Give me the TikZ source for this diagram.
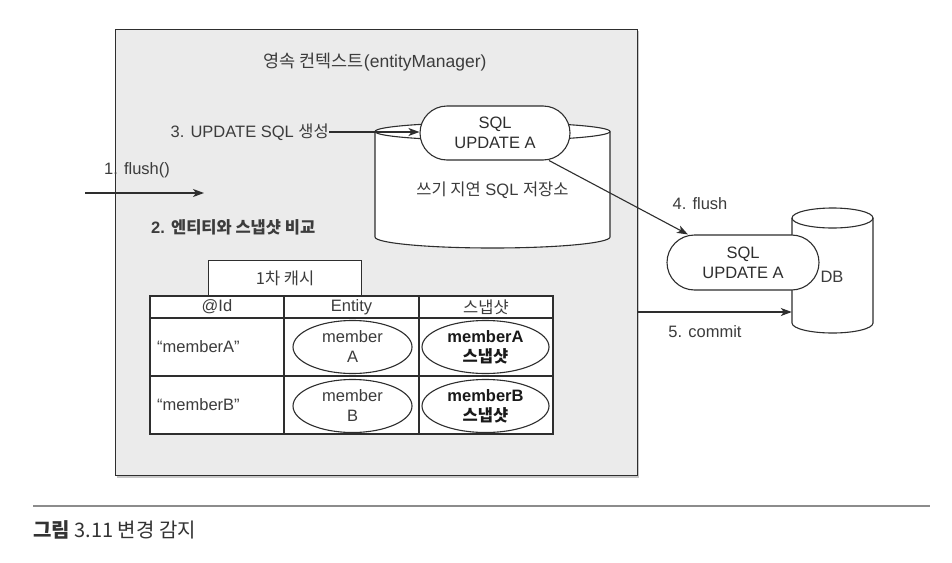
\documentclass[tikz,border=0pt]{standalone}
\usepackage{fontspec}
\setmainfont{Liberation Sans}
\newfontfamily\kr[Scale=1.0]{Noto Sans CJK KR}
\newfontfamily\krcap{Noto Sans CJK KR}
\usetikzlibrary{arrows.meta,shapes.geometric,calc}
\pgfdeclarelayer{back}
\pgfsetlayers{back,main}
\definecolor{txt}{HTML}{3C3C3C}
\definecolor{ln}{HTML}{2E2E2E}
\definecolor{boxfill}{HTML}{EBEBEB}
\begin{document}
\begin{tikzpicture}[x=1pt,y=-1pt,
  every node/.style={font=\fontsize{16.5}{20}\selectfont, text=txt, inner sep=0pt},
  line/.style={draw=ln, line width=1.1pt},
  arr/.style={line, -{Stealth[length=11pt,width=8pt,inset=3pt]}},
  pill/.style={draw=ln, line width=1.1pt, fill=white, rounded corners=27pt, minimum width=150pt, minimum height=54pt, align=center, text=ln},
  oval/.style={ellipse, draw=ln, line width=1.1pt, fill=white, minimum height=53pt, align=center}
]
\useasboundingbox[fill=white] (0,0) rectangle (952,562);

% persistence context box
\fill[black!22] (117,31) rectangle (639,478);
\node[draw=ln, line width=1.3pt, fill=boxfill, minimum width=522pt, minimum height=446pt, anchor=north west] (ctx) at (115,29) {};
\node[font=\fontsize{17.5}{20}\selectfont] (title) at (375,62) {{\kr 영속 컨텍스트}(entityManager)};

% write-behind SQL store (cylinder)
\path[line, fill=white] (375,131.5) -- (375,237) arc (180:360:117.5pt and 11pt) -- (610,131.5) arc (0:180:117.5pt and 9pt) -- cycle;
\draw[line] (375,131.5) arc (180:360:117.5pt and 9pt);
\node[minimum width=235pt, minimum height=125pt] (storeframe) at (492.5,184) {};
\node (store) at (492.5,190) {{\kr 쓰기 지연} SQL {\kr 저장소}};
\node[pill] (sql1) at (495,133) {SQL\\UPDATE A};

% step 3
\node[anchor=east] (l3) at (329,132) {3. UPDATE SQL {\kr 생성}};
\draw[arr] (l3.east) -- (l3.east -| sql1.west);

% step 1
\node[anchor=west] (l1) at (104,170) {1. flush()};
\coordinate (f0) at (85,193);
\coordinate (f1) at (204,193);
\draw[arr] (f0) -- (f1);

% step 2
\node[anchor=west] (l2) at (151,227) {\bfseries 2. {\kr 엔티티와 스냅샷 비교}};

% first-level cache
\node[draw=ln, line width=1.1pt, fill=white, minimum width=153pt, minimum height=36pt, anchor=north west] (tab) at (208,260) {{\kr 1차 캐시}};
\path[line, fill=white] (150,296) rectangle (553,434);
\draw[line] (150,318) -- (553,318);
\draw[line] (150,376) -- (553,376);
\draw[line] (284,296) -- (284,434);
\draw[line] (419,296) -- (419,434);
\node (h1) at (217,307) {@Id};
\node (h2) at (351.5,307) {Entity};
\node (h3) at (486,307) {{\kr 스냅샷}};
\node[anchor=west] (k1) at (157,347) {“memberA”};
\node[anchor=west] (k2) at (157,405) {“memberB”};
\node[oval, minimum width=119pt] (ea) at (352.5,347) {member\\A};
\node[oval, minimum width=127pt, text=black!90] (sa) at (485.5,347) {\bfseries memberA\\\bfseries\kr 스냅샷};
\node[oval, minimum width=119pt] (eb) at (352.5,406) {member\\B};
\node[oval, minimum width=127pt, text=black!90] (sb) at (485.5,406) {\bfseries memberB\\\bfseries\kr 스냅샷};

% DB
\path[line, fill=white] (792,218) -- (792,323) arc (180:360:40.5pt and 10pt) -- (873,218) arc (0:180:40.5pt and 10pt) -- cycle;
\draw[line] (792,218) arc (180:360:40.5pt and 10pt);
\node[minimum width=81pt, minimum height=125pt] (dbframe) at (832.5,270.5) {};
\node (db) at (832,277) {DB};
\node[pill, minimum width=152pt, minimum height=55pt, rounded corners=27.5pt] (sql2) at (743,262.5) {SQL\\UPDATE A};

% step 4 and 5
\begin{pgfonlayer}{back}
\draw[line] (ctx.east |- 0,248) -- (sql2.center |- 0,248);
\end{pgfonlayer}
\draw[arr] (sql1.-27) -- (sql2.153);
\node (l4) at (700,204) {4. flush};
\draw[arr] (ctx.east |- 0,312) -- (dbframe.west |- 0,312);
\node (l5) at (705,332) {5. commit};

% caption
\coordinate (c0) at (33,506);
\coordinate (c1) at (930,506);
\draw[draw=black!45, line width=1.6pt] (c0) -- (c1);
\node[anchor=west, font=\krcap\fontsize{20}{22}\selectfont, text=black!80] (cap) at (33,530) {\bfseries 그림\mdseries\ 3.11 변경 감지};
\end{tikzpicture}
\end{document}
